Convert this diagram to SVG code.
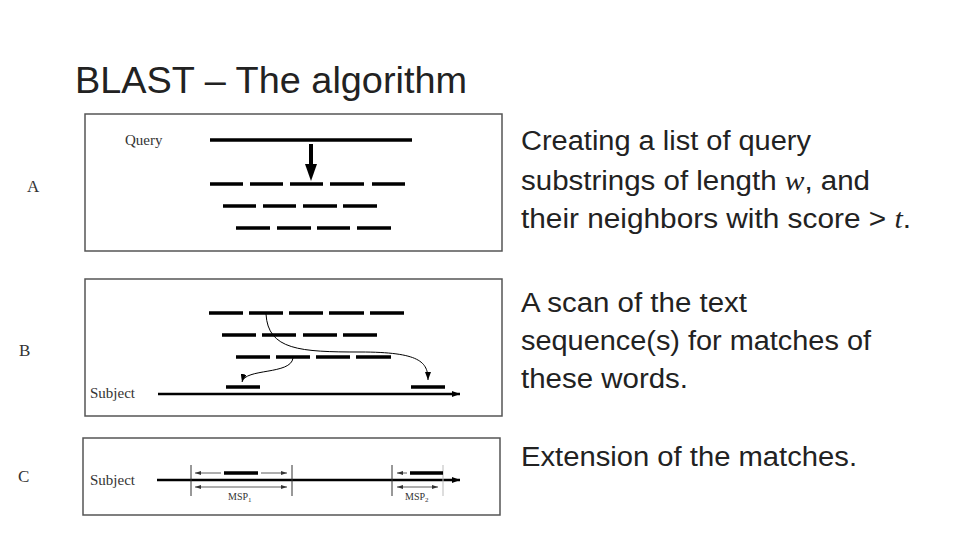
<svg xmlns="http://www.w3.org/2000/svg" width="960" height="540" viewBox="0 0 960 540">
<style>
.box{fill:#fff;stroke:#555;stroke-width:1.5}
.d{stroke:#000;stroke-width:3.5}
.t{stroke:#000;stroke-width:1}
.s{font-family:"Liberation Serif",serif;fill:#333}
.c{font-family:"Liberation Sans",sans-serif;fill:#222;font-size:27px}
</style>
<defs>
<marker id="ah" markerWidth="8" markerHeight="6" refX="8" refY="3" orient="auto" markerUnits="userSpaceOnUse"><path d="M0,0L8,3L0,6z" fill="#000"/></marker>
<marker id="sa" markerWidth="6" markerHeight="4" refX="6" refY="2" orient="auto-start-reverse" markerUnits="userSpaceOnUse"><path d="M0,0L6,2L0,4z" fill="#333"/></marker>
</defs>
<rect width="960" height="540" fill="#fff"/>
<text x="75" y="93" font-family="Liberation Sans,sans-serif" font-size="36" fill="#222" textLength="392" lengthAdjust="spacingAndGlyphs">BLAST – The algorithm</text>
<g id="panelA">
<rect class="box" x="85" y="114" width="417" height="137"/>
<text class="s" x="27" y="192" font-size="17">A</text>
<text class="s" x="125" y="145" font-size="15">Query</text>
<line class="d" x1="210" y1="140" x2="412" y2="140"/>
<line x1="311" y1="144" x2="311" y2="166" stroke="#000" stroke-width="4"/>
<path d="M305,164L317,164L311,181z" fill="#000"/>
<path class="d" d="M210,184h33M250,184h33M290,184h33M330,184h34M372,184h33M223,206h33M263,206h33M303,206h34M343,206h34M236,228h34M277,228h34M317,228h33M357,228h34"/>
</g>
<g id="panelB">
<rect class="box" x="85" y="279" width="417" height="137"/>
<text class="s" x="19" y="356" font-size="17">B</text>
<text class="s" x="90" y="398" font-size="15">Subject</text>
<path class="d" d="M209,313h34M249,313h34M289,313h34M329,313h35M370,313h34M222,335h34M262,335h34M303,335h34M343,335h34M236,357h34M276,357h34M316,357h34M356,357h35M226,387h34M411,387h34"/>
<line x1="158" y1="394" x2="460" y2="394" stroke="#000" stroke-width="2.5" marker-end="url(#ah)"/>
</g>
<g id="panelC">
<rect class="box" x="83" y="438" width="417" height="77"/>
<text class="s" x="18" y="482" font-size="17">C</text>
<text class="s" x="90" y="485" font-size="15">Subject</text>
<line x1="157" y1="480" x2="460" y2="480" stroke="#000" stroke-width="2.5" marker-end="url(#ah)"/>
<path stroke="#333" stroke-width="1" d="M191,465v31M292,465v31M392,465v31"/>
<path stroke="#bbb" stroke-width="1" d="M443,465v31"/>
<path class="d" d="M224,473h34M410,473h33"/>
<text class="s" x="228" y="500" font-size="10">MSP<tspan font-size="7" dy="2">1</tspan></text>
<text class="s" x="405" y="500" font-size="10">MSP<tspan font-size="7" dy="2">2</tspan></text>
</g>
<g id="connectors" fill="none">
<path class="t" d="M266,314C268,350 300,352 360,352C420,352 428,362 428,380" marker-end="url(#ah)"/>
<path class="t" d="M293,358C291,375 245,368 242,382" marker-end="url(#ah)"/>
<g stroke="#333" stroke-width="0.8">
<line x1="221" y1="473" x2="195" y2="473" marker-end="url(#sa)"/>
<line x1="261" y1="473" x2="287" y2="473" marker-end="url(#sa)"/>
<line x1="407" y1="473" x2="397" y2="473" marker-end="url(#sa)"/>
<line x1="195" y1="487" x2="287" y2="487" marker-start="url(#sa)" marker-end="url(#sa)"/>
<line x1="397" y1="487" x2="438" y2="487" marker-start="url(#sa)" marker-end="url(#sa)"/>
</g>
</g>
<g id="textA">
<text class="c" x="521" y="150" textLength="290" lengthAdjust="spacingAndGlyphs">Creating a list of query</text>
<text class="c" x="521" y="190" textLength="349" lengthAdjust="spacingAndGlyphs">substrings of length <tspan font-family="Liberation Serif,serif" font-style="italic">w</tspan>, and</text>
<text class="c" x="521" y="228" textLength="390" lengthAdjust="spacingAndGlyphs">their neighbors with score &gt; <tspan font-family="Liberation Serif,serif" font-style="italic">t</tspan>.</text>
</g>
<g id="textB">
<text class="c" x="521" y="312" textLength="226" lengthAdjust="spacingAndGlyphs">A scan of the text</text>
<text class="c" x="521" y="350" textLength="350" lengthAdjust="spacingAndGlyphs">sequence(s) for matches of</text>
<text class="c" x="521" y="388" textLength="167" lengthAdjust="spacingAndGlyphs">these words.</text>
</g>
<g id="textC">
<text class="c" x="521" y="466" textLength="336" lengthAdjust="spacingAndGlyphs">Extension of the matches.</text>
</g>
</svg>
